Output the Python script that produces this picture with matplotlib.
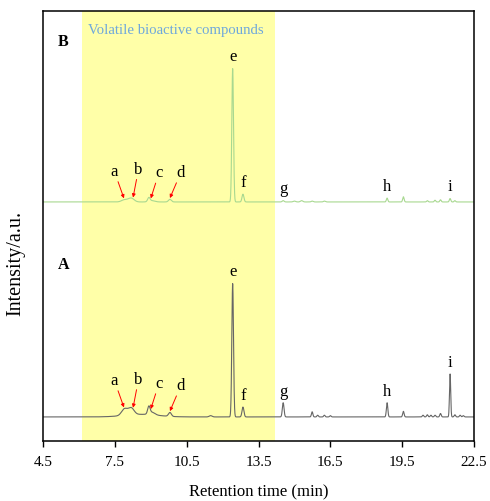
import numpy as np
import matplotlib
matplotlib.use('Agg')
import matplotlib.pyplot as plt

# peak table (retention time min, height, width)
rt_A = [7.90, 8.18, 8.60, 8.92, 9.05, 9.80, 11.50, 12.42, 12.85, 14.53, 15.74, 15.97,
        16.25, 16.50, 18.87, 19.55, 20.37, 20.55, 20.70, 20.87, 21.10, 21.50, 21.70,
        21.92, 22.05]
height_A = [1.5, 1.6, 0.6, 1.7, 0.6, 0.9, 0.3, 31.0, 2.3, 3.3, 1.2, 0.4,
            0.4, 0.3, 3.3, 1.3, 0.4, 0.5, 0.4, 0.4, 0.8, 10.0, 0.5,
            0.4, 0.3]
width_A = [0.12, 0.12, 0.70, 0.05, 0.12, 0.06, 0.06, 0.035, 0.04, 0.035, 0.03, 0.03,
           0.03, 0.03, 0.03, 0.03, 0.03, 0.03, 0.03, 0.03, 0.03, 0.025, 0.03,
           0.03, 0.03]

rt_B = [7.90, 8.18, 8.92, 9.05, 9.80, 12.42, 12.85, 14.53, 15.00, 15.30, 15.74,
        16.25, 18.87, 19.55, 20.55, 20.87, 21.10, 21.50, 21.70]
height_B = [0.5, 0.9, 0.9, 0.3, 0.6, 31.0, 1.8, 0.3, 0.2, 0.3, 0.2,
            0.2, 0.9, 1.2, 0.3, 0.4, 0.5, 0.8, 0.3]
width_B = [0.12, 0.12, 0.05, 0.12, 0.06, 0.035, 0.04, 0.04, 0.05, 0.05, 0.04,
           0.04, 0.03, 0.03, 0.03, 0.03, 0.03, 0.03, 0.03]

baseline_A = 5.6
baseline_B = 55.6

arrow_labels = ['a', 'b', 'c', 'd']
arrow_rt = [7.88, 8.26, 9.00, 9.80]
arrow_offset = [(-7, 14), (4, 15), (6, 13), (8, 13)]

peak_labels = ['e', 'f', 'g', 'h', 'i']
peak_label_rt = [12.42, 12.85, 14.53, 18.87, 21.48]

region = (6.13, 14.2)


def trace(t, rts, heights, widths, base):
    y = np.full_like(t, base)
    for r, h, w in zip(rts, heights, widths):
        y += h * np.exp(-0.5 * ((t - r) / w) ** 2)
    return y


t = np.linspace(4.5, 22.5, 4001)
yA = trace(t, rt_A, height_A, width_A, baseline_A)
yB = trace(t, rt_B, height_B, width_B, baseline_B)

plt.rcParams['font.family'] = ['Liberation Serif', 'DejaVu Serif']

fig = plt.figure(figsize=(4.9, 5.02), dpi=100)
ax = fig.add_axes([0.0878, 0.1195, 0.8796, 0.8565])

ax.axvspan(region[0], region[1], color='#ffffa8', zorder=0, lw=0)
ax.plot(t, yA, color='#666666', lw=0.8, zorder=2)
ax.plot(t, yB, color='#a8d890', lw=0.8, zorder=2)

for y, name in [(yA, 'A'), (yB, 'B')]:
    for lab, r, off in zip(arrow_labels, arrow_rt, arrow_offset):
        yy = np.interp(r, t, y) + 0.3
        ax.annotate(lab, xy=(r, yy), xytext=off, textcoords='offset points',
                    ha='center', va='bottom', fontsize=12,
                    arrowprops=dict(arrowstyle='-|>', color='red', lw=0.7,
                                    mutation_scale=5, shrinkA=0, shrinkB=0))
    for lab, r in zip(peak_labels, peak_label_rt):
        mask = np.abs(t - r) < 0.1
        yy = y[mask].max()
        ax.annotate(lab, xy=(r, yy), xytext=(0, 3), textcoords='offset points',
                    ha='center', va='bottom', fontsize=12)

ax.text(5.33, 93, 'B', fontsize=11.5, fontweight='bold', ha='center', va='center')
ax.text(5.37, 41.2, 'A', fontsize=11.5, fontweight='bold', ha='center', va='center')
ax.text(10.06, 95.8, 'Volatile bioactive compounds', fontsize=10.6, color='#6fa8dc',
        ha='center', va='center')

ax.set_xlim(4.5, 22.5)
ax.set_ylim(0, 100)
ax.set_xticks(np.arange(4.5, 22.6, 3))
ax.set_xticklabels(['4.5', '7.5', '10.5', '13.5', '16.5', '19.5', '22.5'])
ax.set_yticks([])
ax.tick_params(axis='x', direction='out', length=4, width=1, labelsize=11, pad=6)
for s in ax.spines.values():
    s.set_linewidth(1.1)
ax.set_xlabel('Retention time (min)', fontsize=12, labelpad=11)
ax.set_ylabel('Intensity/a.u.', fontsize=14.5)
ax.yaxis.set_label_coords(-0.042, 0.416)

fig.savefig('out.png', dpi=100)
